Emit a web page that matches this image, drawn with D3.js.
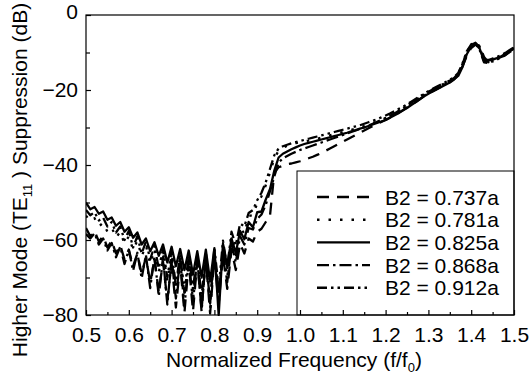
<!DOCTYPE html>
<html lang="en">
<head>
<meta charset="UTF-8">
<title>Higher Mode Suppression</title>
<script src="https://d3js.org/d3.v7.min.js"></script>
<style>
  body { margin: 0; background: #fff; }
  text { font-family: "Liberation Sans", Arial, sans-serif; fill: #000; }
</style>
</head>
<body>
<svg width="530" height="376"></svg>
<script>
// normalized frequency grid (f/f0)
const freq = [
  0.50,0.51,0.52,0.53,0.54,0.55,0.56,0.57,0.58,0.59,
  0.60,0.61,0.62,0.63,0.64,0.65,0.66,0.67,0.68,0.69,
  0.70,0.71,0.72,0.73,0.74,0.75,0.76,0.77,0.78,0.79,
  0.80,0.81,0.82,0.83,0.84,0.85,0.86,0.87,0.88,0.89,
  0.90,0.91,0.92,0.93,0.94,0.95,0.96,0.97,0.98,0.99,
  1.00,1.01,1.02,1.03,1.04,1.05,1.06,1.07,1.08,1.09,
  1.10,1.11,1.12,1.13,1.14,1.15,1.16,1.17,1.18,1.19,
  1.20,1.21,1.22,1.23,1.24,1.25,1.26,1.27,1.28,1.29,
  1.30,1.31,1.32,1.33,1.34,1.35,1.36,1.37,1.38,1.39,
  1.40,1.41,1.42,1.43,1.44,1.45,1.46,1.47,1.48,1.49,
  1.50
];

// suppression (dB), one list per B2 value
const b2_737 = [
  -56.8,-59.0,-57.6,-60.4,-59.0,-62.0,-60.2,-63.6,-61.4,-65.2,
  -62.6,-67.0,-63.6,-69.0,-64.6,-71.4,-65.2,-73.8,-65.8,-76.2,
  -66.0,-78.0,-66.4,-79.4,-66.0,-79.0,-65.6,-78.6,-65.0,-79.6,
  -64.6,-77.0,-64.0,-73.0,-62.6,-68.0,-61.0,-63.6,-59.6,-60.4,
  -57.8,-57.0,-55.2,-53.4,-42.0,-40.6,-40.2,-39.8,-39.6,-39.3,
  -39.0,-38.6,-38.2,-37.8,-37.3,-36.8,-36.2,-35.6,-35.0,-34.4,
  -33.8,-33.2,-32.6,-32.0,-31.4,-30.8,-30.2,-29.6,-29.0,-28.5,
  -28.0,-27.4,-26.8,-26.1,-25.4,-24.7,-24.0,-23.2,-22.4,-21.6,
  -20.9,-20.3,-19.7,-19.1,-18.5,-17.9,-17.1,-16.0,-13.6,-10.8,
  -8.8,-7.9,-8.2,-11.2,-12.6,-12.2,-11.7,-11.2,-10.6,-9.8,
  -9.1
];
const b2_781 = [
  -53.5,-55.0,-54.2,-56.4,-55.4,-57.8,-56.6,-59.4,-57.8,-61.0,
  -59.0,-62.6,-60.2,-64.4,-61.4,-66.4,-62.4,-68.6,-63.2,-71.0,
  -63.8,-73.0,-64.4,-74.6,-64.8,-76.0,-64.6,-77.4,-64.0,-78.6,
  -63.0,-76.0,-61.4,-70.0,-59.0,-64.0,-56.4,-58.4,-53.6,-53.4,
  -50.2,-48.4,-45.4,-42.0,-38.2,-36.2,-35.4,-34.9,-34.5,-34.2,
  -33.9,-33.7,-33.5,-33.2,-33.0,-32.7,-32.4,-32.1,-31.8,-31.5,
  -31.2,-30.9,-30.6,-30.3,-30.0,-29.6,-29.2,-28.8,-28.4,-28.0,
  -27.5,-27.0,-26.4,-25.8,-25.2,-24.5,-23.8,-23.0,-22.3,-21.5,
  -20.8,-20.2,-19.6,-19.0,-18.4,-17.8,-17.0,-15.8,-13.2,-10.0,
  -8.2,-7.6,-8.4,-11.8,-12.4,-12.0,-11.6,-11.1,-10.5,-9.7,
  -9.0
];
const b2_825 = [
  -50.0,-51.8,-51.2,-53.0,-52.4,-54.6,-54.0,-56.2,-55.2,-57.8,
  -56.6,-59.4,-58.0,-61.2,-59.6,-63.0,-60.6,-64.2,-61.2,-66.0,
  -61.8,-67.0,-62.4,-68.0,-62.8,-69.2,-63.0,-70.0,-62.6,-71.0,
  -62.2,-80.0,-61.0,-67.0,-59.6,-63.5,-57.6,-59.8,-55.2,-56.6,
  -52.6,-52.4,-49.2,-46.4,-41.5,-38.0,-37.0,-36.4,-35.8,-35.3,
  -34.8,-34.4,-34.1,-33.8,-33.5,-33.2,-32.9,-32.6,-32.3,-32.0,
  -31.7,-31.4,-31.0,-30.7,-30.3,-30.0,-29.6,-29.2,-28.8,-28.4,
  -28.0,-27.4,-26.8,-26.2,-25.5,-24.8,-24.0,-23.3,-22.5,-21.7,
  -21.0,-20.4,-19.8,-19.2,-18.6,-18.0,-17.2,-16.2,-13.8,-10.4,
  -8.4,-7.8,-9.0,-12.4,-12.2,-11.9,-11.5,-11.0,-10.4,-9.6,
  -8.8
];
const b2_868 = [
  -58.4,-59.6,-58.2,-61.2,-59.6,-62.8,-60.8,-64.6,-61.8,-66.4,
  -62.6,-68.2,-63.4,-70.2,-64.0,-72.8,-64.4,-75.0,-64.6,-77.2,
  -64.8,-75.6,-65.0,-77.8,-65.2,-76.4,-65.0,-79.0,-64.6,-76.8,
  -64.0,-74.6,-62.8,-71.2,-61.0,-66.0,-59.0,-61.2,-56.8,-57.2,
  -54.4,-53.2,-50.6,-47.0,-43.0,-39.4,-38.2,-37.6,-37.0,-36.5,
  -36.0,-35.6,-35.2,-34.8,-34.4,-34.0,-33.6,-33.2,-32.8,-32.4,
  -32.0,-31.6,-31.2,-30.8,-30.4,-30.0,-29.5,-29.0,-28.5,-28.0,
  -27.5,-26.9,-26.3,-25.6,-24.9,-24.2,-23.4,-22.7,-21.9,-21.2,
  -20.5,-19.9,-19.3,-18.7,-18.1,-17.5,-16.8,-15.6,-13.0,-9.8,
  -8.0,-7.4,-8.6,-12.0,-12.0,-11.6,-11.2,-10.7,-10.1,-9.3,
  -8.6
];
const b2_912 = [
  -52.0,-53.4,-52.6,-54.8,-54.0,-56.4,-55.2,-58.0,-56.4,-60.0,
  -57.6,-62.0,-59.0,-63.6,-60.4,-65.2,-61.6,-67.6,-62.4,-70.0,
  -63.0,-72.2,-63.6,-74.0,-64.0,-73.0,-63.8,-75.4,-63.2,-77.0,
  -62.0,-73.0,-60.2,-67.4,-57.8,-61.4,-55.6,-56.4,-52.8,-52.0,
  -49.4,-47.4,-44.6,-41.0,-37.4,-35.6,-35.0,-34.6,-34.2,-33.9,
  -33.6,-33.3,-33.0,-32.7,-32.4,-32.1,-31.8,-31.5,-31.2,-30.9,
  -30.6,-30.3,-30.0,-29.7,-29.4,-29.0,-28.6,-28.2,-27.8,-27.3,
  -26.8,-26.3,-25.7,-25.1,-24.5,-23.8,-23.1,-22.4,-21.7,-21.0,
  -20.3,-19.7,-19.1,-18.5,-17.9,-17.3,-16.6,-15.4,-12.8,-9.6,
  -7.8,-7.6,-9.4,-12.6,-12.8,-12.4,-11.9,-11.3,-10.7,-9.9,
  -9.2
];

const seriesNames = ["B2 = 0.737a", "B2 = 0.781a", "B2 = 0.825a", "B2 = 0.868a", "B2 = 0.912a"];
const seriesValues = [b2_737, b2_781, b2_825, b2_868, b2_912];
const dashStyles = ["12,8", "2.5,9", null, "12,4,2.5,4", "10,4,2.5,4,2.5,4"];

const xTicks = [0.5, 0.6, 0.7, 0.8, 0.9, 1.0, 1.1, 1.2, 1.3, 1.4, 1.5];
const yTicks = [0, -20, -40, -60, -80];

const svg = d3.select("svg");
const plotL = 86, plotR = 514, plotT = 15, plotB = 315;

const x = d3.scaleLinear().domain([0.5, 1.5]).range([plotL, plotR]);
const y = d3.scaleLinear().domain([-80, 0]).range([plotB, plotT]);

svg.append("rect").attr("width", 530).attr("height", 376).attr("fill", "#fff");

svg.append("clipPath").attr("id", "plot")
  .append("rect").attr("x", plotL).attr("y", plotT - 2)
  .attr("width", plotR - plotL).attr("height", plotB - plotT + 3);

const line = d3.line()
  .x((d, i) => x(freq[i]))
  .y(d => y(d));

const curves = svg.append("g").attr("clip-path", "url(#plot)");
seriesValues.forEach((vals, k) => {
  curves.append("path")
    .attr("d", line(vals))
    .attr("fill", "none")
    .attr("stroke", "#000")
    .attr("stroke-width", 2.3)
    .attr("stroke-linejoin", "round")
    .attr("stroke-dasharray", dashStyles[k]);
});

// legend box sits on the lower right corner of the frame
const lg = svg.append("g");
lg.append("rect")
  .attr("x", 297).attr("y", 171)
  .attr("width", plotR - 297).attr("height", plotB - 171)
  .attr("fill", "#fff").attr("stroke", "#000").attr("stroke-width", 1);
seriesNames.forEach((name, k) => {
  const cy = 197 + k * 22.7;
  lg.append("line")
    .attr("x1", 317).attr("x2", 370).attr("y1", cy).attr("y2", cy)
    .attr("stroke", "#000").attr("stroke-width", 2.4)
    .attr("stroke-dasharray", dashStyles[k]);
  lg.append("text")
    .attr("x", 385).attr("y", cy + 7.5)
    .attr("font-size", 21)
    .text(name);
});

// frame
svg.append("rect")
  .attr("x", plotL).attr("y", plotT)
  .attr("width", plotR - plotL).attr("height", plotB - plotT)
  .attr("fill", "none").attr("stroke", "#000").attr("stroke-width", 1.2);

// axes, ticks pointing inward
const xAxis = svg.append("g").attr("transform", `translate(0,${plotB})`)
  .call(d3.axisBottom(x).tickValues(xTicks).tickFormat(d3.format(".1f"))
    .tickSize(-5).tickPadding(12));
const xMinor = svg.append("g").attr("transform", `translate(0,${plotB})`)
  .call(d3.axisBottom(x).tickValues([0.55,0.65,0.75,0.85,0.95,1.05,1.15,1.25,1.35,1.45])
    .tickSize(-3).tickFormat(""));
const yAxis = svg.append("g").attr("transform", `translate(${plotL},0)`)
  .call(d3.axisLeft(y).tickValues(yTicks).tickFormat(d3.format("d"))
    .tickSize(-5).tickPadding(8));
const yMinor = svg.append("g").attr("transform", `translate(${plotL},0)`)
  .call(d3.axisLeft(y).tickValues([-10, -30, -50, -70]).tickSize(-4).tickFormat(""));

[xAxis, xMinor, yAxis, yMinor].forEach(a => {
  a.select(".domain").remove();
  a.selectAll(".tick line").attr("stroke", "#000").attr("stroke-width", 1.2);
  a.selectAll("text").attr("font-size", 21).attr("font-family", null).attr("fill", "#000");
});
// the top "0" label sits a little high and is cut by the page edge
yAxis.selectAll(".tick").filter(d => d === 0).select("text").attr("dy", "0.15em");

// axis titles
const xt = svg.append("text")
  .attr("x", 294).attr("y", 367)
  .attr("text-anchor", "middle")
  .attr("font-size", 21);
xt.append("tspan").text("Normalized Frequency (f/f");
xt.append("tspan").attr("font-size", 13).attr("dy", 5).text("0");
xt.append("tspan").attr("dy", -5).text(")");

const yt = svg.append("text")
  .attr("transform", "translate(27,180) rotate(-90)")
  .attr("text-anchor", "middle")
  .attr("font-size", 21);
yt.append("tspan").text("Higher Mode (TE");
yt.append("tspan").attr("font-size", 13).attr("dy", 5).text("11");
yt.append("tspan").attr("dy", -5).text(" ) Suppression (dB)");
</script>
</body>
</html>
